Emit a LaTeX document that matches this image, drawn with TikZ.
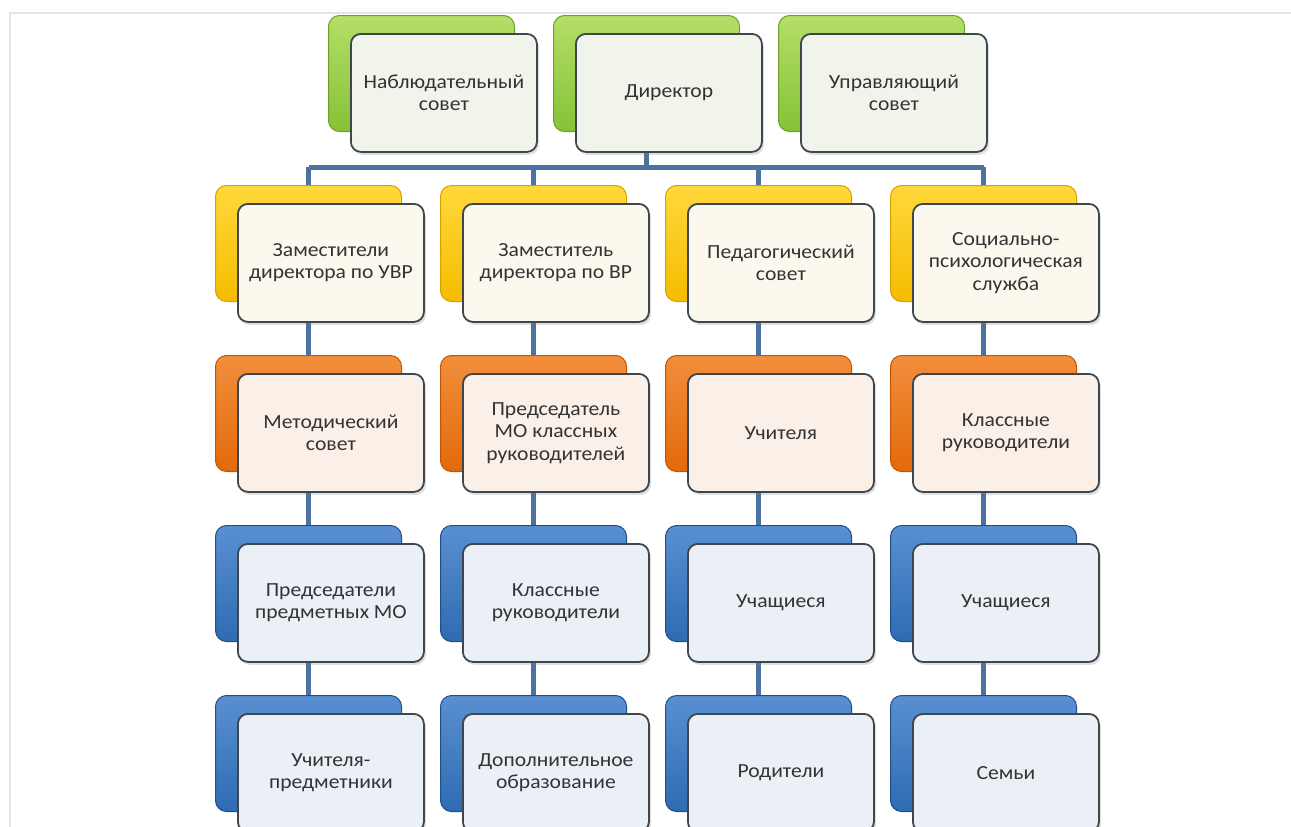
\documentclass[tikz,border=0pt]{standalone}
\usepackage{fontspec}
\setmainfont{Carlito}
\newfontfamily\boxfont[FakeStretch=1.08]{Carlito}
\usetikzlibrary{shadows}
\pgfdeclarelayer{background}
\pgfsetlayers{background,main}
\definecolor{gbase}{HTML}{86C236}\definecolor{glight}{HTML}{B4DE68}\definecolor{gdark}{HTML}{6E9F2A}
\definecolor{ybase}{HTML}{F5BC00}\definecolor{ylight}{HTML}{FFD93A}\definecolor{ydark}{HTML}{D9A000}
\definecolor{obase}{HTML}{E26A0A}\definecolor{olight}{HTML}{F28E3C}\definecolor{odark}{HTML}{C05505}
\definecolor{bbase}{HTML}{2E6BB2}\definecolor{blight}{HTML}{5A90D2}\definecolor{bdark}{HTML}{1F4E88}
\definecolor{gfront}{HTML}{F0F4EA}\definecolor{yfront}{HTML}{FBF9EE}
\definecolor{ofront}{HTML}{FBF0E8}\definecolor{bfront}{HTML}{EBEFF6}
\definecolor{fborder}{HTML}{3E464E}\definecolor{conn}{HTML}{4C72A2}
\definecolor{txt}{HTML}{333333}\definecolor{framec}{HTML}{E6E6DE}
\tikzset{
  backbox/.style={rounded corners=11pt, minimum width=186pt, minimum height=116pt,
    inner sep=0pt, anchor=north west, line width=1pt},
  gback/.style={backbox, draw=gdark, top color=glight, bottom color=gbase},
  yback/.style={backbox, draw=ydark, top color=ylight, bottom color=ybase},
  oback/.style={backbox, draw=odark, top color=olight, bottom color=obase},
  bback/.style={backbox, draw=bdark, top color=blight, bottom color=bbase},
  frontbox/.style={rounded corners=10pt, minimum width=186pt, minimum height=118pt,
    inner sep=2pt, anchor=north west, draw=fborder, line width=1.8pt, align=center,
    text=txt, font=\boxfont\fontsize{20}{22.5}\selectfont,
    drop shadow={opacity=0.25, shadow xshift=2pt, shadow yshift=-3pt}},
  gfr/.style={frontbox, fill=gfront},
  yfr/.style={frontbox, fill=yfront},
  ofr/.style={frontbox, fill=ofront},
  bfr/.style={frontbox, fill=bfront},
  connline/.style={draw=conn, line width=5pt},
}
\begin{document}
\begin{tikzpicture}[x=1pt, y=-1pt]
\useasboundingbox (0,0) rectangle (1291,827);
\clip (0,0) rectangle (1291,827);
\draw[framec, line width=1.5pt] (10,827) -- (10,13) -- (1291,13);
% top row
\node[gback] (tb1) at (328,15) {};
\node[gfr] (tf1) at (350,33) {Наблюдательный\\совет};
\node[gback] (tb2) at (553,15) {};
\node[gfr] (tf2) at (575,33) {Директор};
\node[gback] (tb3) at (778,15) {};
\node[gfr] (tf3) at (800,33) {Управляющий\\совет};
% row 1
\node[yback] (b11) at (215,185) {};
\node[yfr] (f11) at (237,203) {Заместители\\директора по УВР};
\node[yback] (b12) at (440,185) {};
\node[yfr] (f12) at (462,203) {Заместитель\\директора по ВР};
\node[yback] (b13) at (665,185) {};
\node[yfr] (f13) at (687,203) {Педагогический\\совет};
\node[yback] (b14) at (890,185) {};
\node[yfr] (f14) at (912,203) {Социально-\\психологическая\\служба};
% row 2
\node[oback] (b21) at (215,355) {};
\node[ofr] (f21) at (237,373) {Методический\\совет};
\node[oback] (b22) at (440,355) {};
\node[ofr] (f22) at (462,373) {Председатель\\МО классных\\руководителей};
\node[oback] (b23) at (665,355) {};
\node[ofr] (f23) at (687,373) {Учителя};
\node[oback] (b24) at (890,355) {};
\node[ofr] (f24) at (912,373) {Классные\\руководители};
% row 3
\node[bback] (b31) at (215,525) {};
\node[bfr] (f31) at (237,543) {Председатели\\предметных МО};
\node[bback] (b32) at (440,525) {};
\node[bfr] (f32) at (462,543) {Классные\\руководители};
\node[bback] (b33) at (665,525) {};
\node[bfr] (f33) at (687,543) {Учащиеся};
\node[bback] (b34) at (890,525) {};
\node[bfr] (f34) at (912,543) {Учащиеся};
% row 4
\node[bback] (b41) at (215,695) {};
\node[bfr] (f41) at (237,713) {Учителя-\\предметники};
\node[bback] (b42) at (440,695) {};
\node[bfr] (f42) at (462,713) {Дополнительное\\образование};
\node[bback] (b43) at (665,695) {};
\node[bfr] (f43) at (687,713) {Родители};
\node[bback] (b44) at (890,695) {};
\node[bfr] (f44) at (912,713) {Семьи};
% connectors
\begin{pgfonlayer}{background}
\coordinate (hl) at (0,167);
\draw[connline] (tb2.center) -- (tb2.center |- hl);
\draw[connline] (b11.center |- hl) -- (b14.center |- hl);
\foreach \c in {1,2,3,4}{
  \draw[connline] (b1\c.center |- hl) -- (b1\c.center) -- (b2\c.center) -- (b3\c.center) -- (b4\c.center);
}
\end{pgfonlayer}
\end{tikzpicture}
\end{document}
